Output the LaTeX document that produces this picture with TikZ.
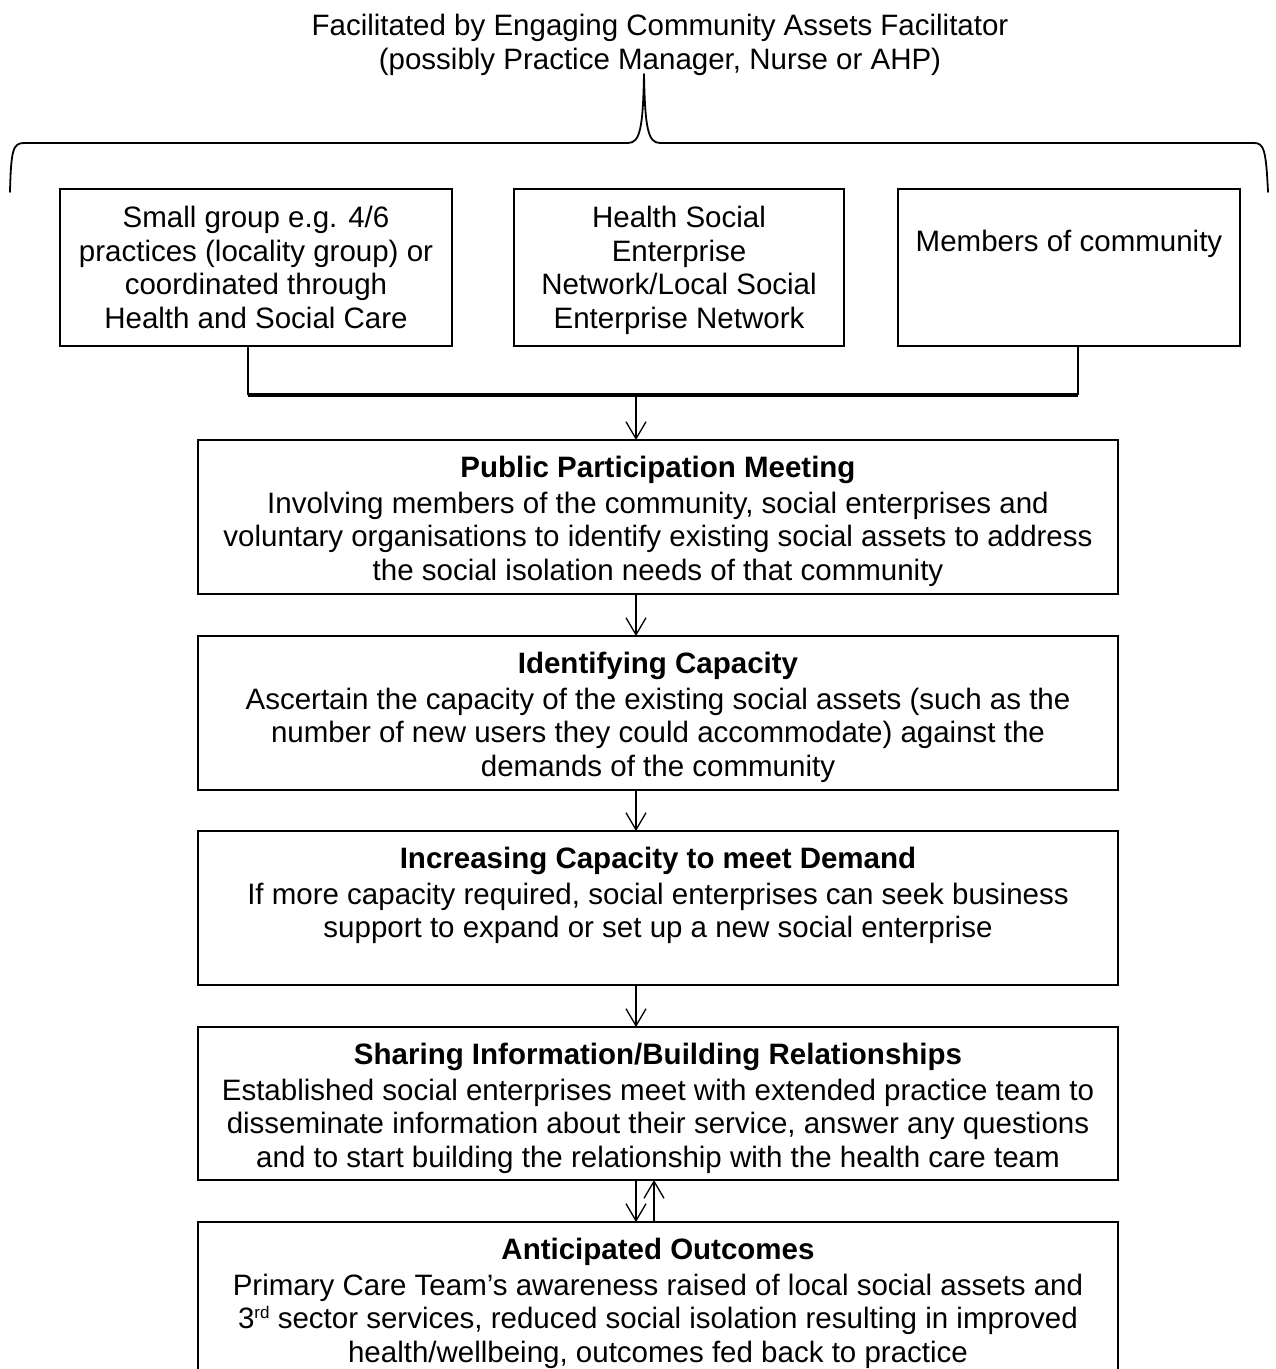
\documentclass[tikz,border=0pt]{standalone}
\usepackage{fontspec}
\setmainfont{Liberation Sans}
\usetikzlibrary{arrows.meta}
\newcommand\bodyfs{\fontsize{29.5}{33.5}\selectfont}
\newcommand\supsm[1]{\raisebox{10pt}{\fontsize{17}{17}\selectfont #1}}
\begin{document}
\begin{tikzpicture}[x=1pt,y=-1pt,
  box/.style={draw=black, line width=1.4pt, inner sep=0pt, outer sep=0pt, anchor=north west, font=\bodyfs},
  arr/.style={line width=1.3pt, -{Straight Barb[length=17pt,width=20pt,line width=1.3pt]}},
  link/.style={line width=1.6pt},
  bus/.style={line width=3.2pt},
  bracestyle/.style={line width=1.8pt, line cap=round, line join=round}]
\fill[white] (0,0) rectangle (1276,1369);
\useasboundingbox (0,0) rectangle (1276,1369);

% title
\node[anchor=north, inner sep=0pt, font=\bodyfs] (title) at (660,0)
  {\parbox[t]{900pt}{\centering\rule{0pt}{35.7pt}Facilitated by Engaging Community Assets Facilitator\\(possibly Practice Manager, Nurse or AHP)}};

% brace
\coordinate (btip) at (644,74);
\draw[bracestyle] (10,192) .. controls (11,150) and (13,143) .. (24,143) -- (628,143)
  .. controls (640,143) and (643,128) .. (btip)
  .. controls (645,128) and (648,143) .. (660,143) -- (1254,143)
  .. controls (1264,143) and (1266,150) .. (1268,192);

% top boxes
\node[box] (grp) at (60,189) {\parbox[c][157pt][t]{392pt}{\centering\rule{0pt}{38.7pt}Small group e.g. 4/6\\practices (locality group) or\\coordinated through\\Health and Social Care}};
\node[box] (hsen) at (514,189) {\parbox[c][157pt][t]{330pt}{\centering\rule{0pt}{38.7pt}Health Social\\Enterprise\\Network/Local Social\\Enterprise Network}};
\node[box] (mem) at (898,189) {\parbox[c][157pt][t]{342pt}{\centering\rule{0pt}{62pt}Members of community}};

% main boxes
\node[box] (ppm) at (198,440) {\parbox[c][154pt][t]{920pt}{\centering\rule{0pt}{37.7pt}\textbf{Public Participation Meeting}\\[2pt]Involving members of the community, social enterprises and\\voluntary organisations to identify existing social assets to address\\the social isolation needs of that community}};
\node[box] (idc) at (198,636) {\parbox[c][154pt][t]{920pt}{\centering\rule{0pt}{37.7pt}\textbf{Identifying Capacity}\\[2pt]Ascertain the capacity of the existing social assets (such as the\\number of new users they could accommodate) against the\\demands of the community}};
\node[box] (inc) at (198,831) {\parbox[c][154pt][t]{920pt}{\centering\rule{0pt}{37.7pt}\textbf{Increasing Capacity to meet Demand}\\[2pt]If more capacity required, social enterprises can seek business\\support to expand or set up a new social enterprise}};
\node[box] (shr) at (198,1027) {\parbox[c][153pt][t]{920pt}{\centering\rule{0pt}{37.7pt}\textbf{Sharing Information/Building Relationships}\\[2pt]Established social enterprises meet with extended practice team to\\disseminate information about their service, answer any questions\\and to start building the relationship with the health care team}};
\node[box] (out) at (198,1222) {\parbox[c][175pt][t]{920pt}{\centering\rule{0pt}{37.7pt}\textbf{Anticipated Outcomes}\\[2pt]Primary Care Team’s awareness raised of local social assets and\\3\supsm{rd} sector services, reduced social isolation resulting in improved\\health/wellbeing, outcomes fed back to practice}};

% connectors
\coordinate (ax) at (636,0);
\coordinate (ux) at (654,0);
\coordinate (lx) at (248,0);
\coordinate (rx) at (1078,0);
\coordinate (jl) at (248,395);
\coordinate (jr) at (1078,395);
\coordinate (jm) at (636,395);
\draw[link] (grp.south -| lx) -- (jl);
\draw[link] (mem.south -| rx) -- (jr);
\draw[bus] (jl) -- (jr);
\draw[arr] (jm) -- (ppm.north -| ax);
\draw[arr] (ppm.south -| ax) -- (idc.north -| ax);
\draw[arr] (idc.south -| ax) -- (inc.north -| ax);
\draw[arr] (inc.south -| ax) -- (shr.north -| ax);
\draw[arr] (shr.south -| ax) -- (out.north -| ax);
\draw[arr] (out.north -| ux) -- (shr.south -| ux);
\end{tikzpicture}
\end{document}
